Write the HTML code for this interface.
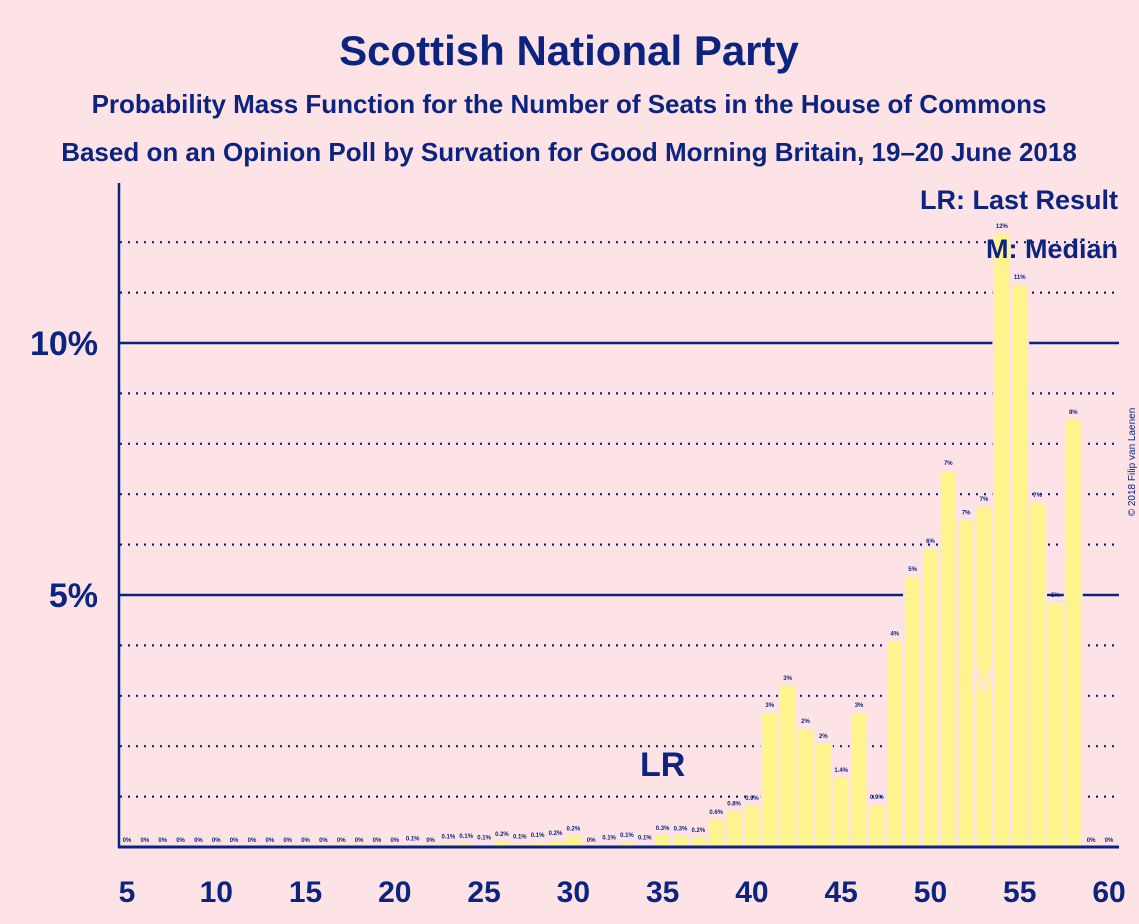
<!DOCTYPE html>
<html><head><meta charset="utf-8"><style>
body{margin:0;background:#fde3e6;}
svg{display:block;font-family:"Liberation Sans",sans-serif;}
</style></head><body>
<svg id="chart" width="1139" height="924">
<rect width="1139" height="924" fill="#fde3e6"/>
<text x="569" y="65" text-anchor="middle" font-size="42" font-weight="bold" fill="#0c2480">Scottish National Party</text>
<text x="569" y="113" text-anchor="middle" font-size="26" font-weight="bold" fill="#0c2480">Probability Mass Function for the Number of Seats in the House of Commons</text>
<text x="569" y="161" text-anchor="middle" font-size="26" font-weight="bold" fill="#0c2480">Based on an Opinion Poll by Survation for Good Morning Britain, 19–20 June 2018</text>
<text x="1135" y="462" transform="rotate(-90 1135 462)" text-anchor="middle" font-size="10" fill="#0c2480" dy="0">© 2018 Filip van Laenen</text>
<g id="grid"></g>
<g id="bars"></g>
<g id="labels"></g>
<line x1="119" y1="183" x2="119" y2="848" stroke="#0c2480" stroke-width="2.5"/>
<line x1="118" y1="847" x2="1119" y2="847" stroke="#0c2480" stroke-width="3"/>
<g id="ticks"></g>
<text x="1118" y="209" text-anchor="end" font-size="27" font-weight="bold" fill="#0c2480">LR: Last Result</text>
<text x="1118" y="258" text-anchor="end" font-size="27" font-weight="bold" fill="#0c2480">M: Median</text>
</svg>
<script>
const seats=[5,6,7,8,9,10,11,12,13,14,15,16,17,18,19,20,21,22,23,24,25,26,27,28,29,30,31,32,33,34,35,36,37,38,39,40,41,42,43,44,45,46,47,48,49,50,51,52,53,54,55,56,57,58,59,60];
const probs=[0,0,0,0,0,0,0,0,0,0,0,0,0,0,0,0,0.03,0,0.07,0.08,0.05,0.12,0.07,0.1,0.14,0.23,0,0.05,0.1,0.05,0.24,0.23,0.2,0.56,0.72,0.83,2.68,3.21,2.36,2.06,1.39,2.68,0.85,4.1,5.38,5.93,7.48,6.5,6.77,12.18,11.17,6.85,4.86,8.49,0,0];
const valueLabels=["0%","0%","0%","0%","0%","0%","0%","0%","0%","0%","0%","0%","0%","0%","0%","0%","0.1%","0%","0.1%","0.1%","0.1%","0.2%","0.1%","0.1%","0.2%","0.2%","0%","0.1%","0.1%","0.1%","0.3%","0.3%","0.2%","0.6%","0.8%","0.9%","3%","3%","2%","2%","1.4%","3%","0.9%","4%","5%","6%","7%","7%","7%","12%","11%","7%","5%","8%","0%","0%"];
const xTicks=[5,10,15,20,25,30,35,40,45,50,55,60];
const yTicks=[5,10];
const gridLines=[1,2,3,4,5,6,7,8,9,10,11,12];
const lastResult=35, median=53;
const NS="http://www.w3.org/2000/svg";
const X=s=>127+(s-5)*(1109-127)/55;
const Y=p=>847-p*50.4;
function mk(tag,attrs,parent){const e=document.createElementNS(NS,tag);for(const k in attrs)e.setAttribute(k,attrs[k]);document.getElementById(parent).appendChild(e);return e;}
gridLines.forEach(g=>{
 const solid=yTicks.includes(g);
 const l=mk('line',{x1:120,x2:1119,y1:Y(g),y2:Y(g),stroke:'#0c2480','stroke-width':solid?2.5:2.2,'stroke-dasharray':solid?'none':'2,6'},'grid');
 
 
});
seats.forEach((s,i)=>{
 const p=probs[i];
 if(p>0){
 const r=mk('rect',{x:X(s)-8.5,y:Y(p),width:17,height:847-Y(p),fill:'#fff48e',stroke:'#fde3e6','stroke-width':2},'bars');
 
 
 }
 const t=mk('text',{x:X(s),y:Y(p)-5,'text-anchor':'middle','font-size':6,'font-weight':'bold',fill:'#0c2480'},'labels');
 t.textContent=valueLabels[i];
 
 
});
const lr=mk('text',{x:X(lastResult),y:776,'text-anchor':'middle','font-size':34,'font-weight':'bold',fill:'#0c2480'},'labels');
lr.textContent='LR';


const m=mk('text',{x:X(median),y:692,'text-anchor':'middle','font-size':34,'font-weight':'bold',fill:'#fde3e6','fill-opacity':0.8},'labels');
m.textContent='M';


xTicks.forEach(s=>{
 const t=mk('text',{x:X(s),y:902,'text-anchor':'middle','font-size':30,'font-weight':'bold',fill:'#0c2480'},'ticks');
 t.textContent=s;
 
 
});
yTicks.forEach(v=>{
 const t=mk('text',{x:98,y:Y(v)+12,'text-anchor':'end','font-size':34,'font-weight':'bold',fill:'#0c2480'},'ticks');
 t.textContent=v+'%';
 
 
});
</script>
</body></html>
